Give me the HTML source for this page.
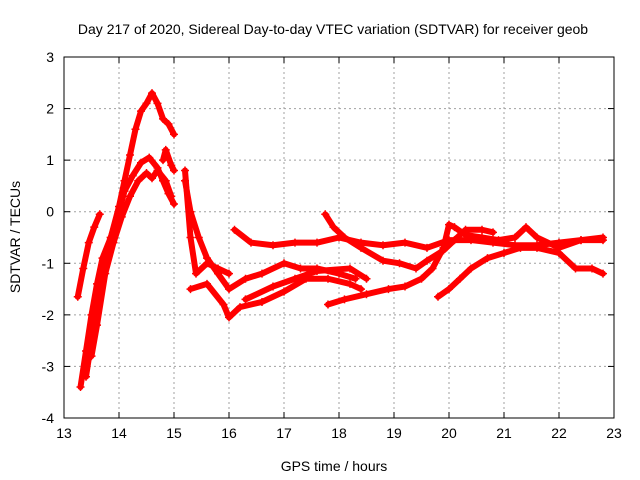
<!DOCTYPE html>
<html><head><meta charset="utf-8">
<style>
html,body{margin:0;padding:0;background:#fff;}
svg{display:block;font-family:"Liberation Sans",sans-serif;}
</style></head>
<body>
<svg id="chart" width="640" height="480" viewBox="0 0 640 480" xmlns="http://www.w3.org/2000/svg">
<text x="333" y="34" font-size="14" text-anchor="middle">Day 217 of 2020, Sidereal Day-to-day VTEC variation (SDTVAR) for receiver geob</text>
<text x="334" y="471" font-size="14" text-anchor="middle">GPS time / hours</text>
<text x="20" y="237" font-size="14" text-anchor="middle" transform="rotate(-90 20 237)">SDTVAR / TECUs</text>
<g id="grid"></g>
<g id="marks"></g>
<rect x="64" y="57" width="550" height="361" fill="none" stroke="#000" stroke-width="1"/>
<g id="axes"></g>
</svg>
<script>
const xTicks = [13,14,15,16,17,18,19,20,21,22,23];
const yTicks = [-4,-3,-2,-1,0,1,2,3];
const trackA = [[13.25,-1.65],[13.35,-1.1],[13.45,-0.6],[13.55,-0.3],[13.65,-0.05]];
const trackB = [[13.3,-3.4],[13.4,-2.7],[13.5,-2.0],[13.6,-1.4],[13.7,-0.9],[13.85,-0.5],[14.0,0.1],[14.1,0.6],[14.2,1.1],[14.3,1.6],[14.4,1.95],[14.5,2.1],[14.6,2.3],[14.7,2.1],[14.8,1.8],[14.9,1.7],[15.0,1.5]];
const trackC = [[13.4,-3.2],[13.5,-2.5],[13.6,-1.8],[13.7,-1.0],[13.85,-0.5],[14.0,0],[14.1,0.4],[14.25,0.7],[14.4,0.95],[14.55,1.05],[14.7,0.85],[14.8,0.6],[14.9,0.35],[15.0,0.15]];
const trackD = [[13.5,-2.8],[13.6,-2.2],[13.75,-1.2],[13.9,-0.6],[14.05,-0.1],[14.2,0.3],[14.35,0.6],[14.5,0.75],[14.6,0.65],[14.7,0.8],[14.85,0.6],[14.95,0.3]];
const trackE = [[14.8,1.0],[14.85,1.2],[14.95,0.9],[15.0,0.8]];
const trackF = [[16.1,-0.35],[16.4,-0.6],[16.8,-0.65],[17.2,-0.6],[17.6,-0.6],[18.0,-0.5],[18.4,-0.6],[18.8,-0.65],[19.2,-0.6],[19.6,-0.7],[20.0,-0.55],[20.4,-0.55],[20.8,-0.6],[21.2,-0.65],[21.6,-0.65],[22.0,-0.6],[22.4,-0.55],[22.8,-0.55]];
const trackG = [[15.2,0.6],[15.3,0],[15.45,-0.5],[15.6,-0.9],[15.8,-1.2],[16.0,-1.5],[16.3,-1.3],[16.6,-1.2],[17.0,-1.0],[17.3,-1.1],[17.6,-1.1],[18.0,-1.2],[18.3,-1.3]];
const trackH = [[15.3,-1.5],[15.6,-1.4],[15.9,-1.8],[16.0,-2.05],[16.2,-1.85],[16.6,-1.75],[17.0,-1.55],[17.4,-1.3],[17.8,-1.3],[18.2,-1.4],[18.4,-1.5]];
const trackI = [[17.75,-0.05],[17.9,-0.3],[18.1,-0.5],[18.4,-0.7],[18.8,-0.95],[19.1,-1.0],[19.4,-1.1],[19.6,-0.95],[19.9,-0.75],[20.1,-0.55],[20.3,-0.35],[20.6,-0.35],[20.8,-0.4]];
const trackJ = [[17.8,-1.8],[18.1,-1.7],[18.5,-1.6],[18.9,-1.5],[19.2,-1.45],[19.5,-1.3],[19.7,-1.1],[19.9,-0.7],[20.0,-0.25],[20.1,-0.3],[20.3,-0.45],[20.6,-0.5],[20.9,-0.55],[21.2,-0.5],[21.4,-0.3],[21.6,-0.5],[22.0,-0.7],[22.4,-0.55],[22.8,-0.5]];
const trackK = [[19.8,-1.65],[20.0,-1.5],[20.2,-1.3],[20.4,-1.1],[20.7,-0.9],[21.0,-0.8],[21.3,-0.7],[21.6,-0.7],[22.0,-0.8],[22.3,-1.1],[22.6,-1.1],[22.8,-1.2]];
const trackL = [[16.3,-1.7],[16.8,-1.45],[17.2,-1.3],[17.6,-1.15],[18.2,-1.1],[18.5,-1.3]];
const trackM = [[15.2,0.8],[15.3,-0.5],[15.4,-1.2],[15.6,-1.0],[15.8,-1.1],[16.0,-1.2]];
const tracks = [trackA,trackB,trackC,trackD,trackE,trackF,trackG,trackH,trackI,trackJ,trackK,trackL,trackM];

const NS = "http://www.w3.org/2000/svg";
const X0=64, X1=614, Y0=418, Y1=57;
function sx(v){return X0+(v-13)/(23-13)*(X1-X0);}
function sy(v){return Y0-(v-(-4))/(3-(-4))*(Y0-Y1);}
const grid=document.getElementById('grid'), axes=document.getElementById('axes'), marks=document.getElementById('marks');
function mk(tag,attrs,parent){const e=document.createElementNS(NS,tag);for(const k in attrs)e.setAttribute(k,attrs[k]);parent.appendChild(e);return e;}
xTicks.forEach(t=>{
  const x=sx(t);
  if(t>13&&t<23){const g=mk('line',{x1:x,x2:x,y1:Y1,y2:Y0,stroke:'#a0a0a0','stroke-dasharray':'2,3'},grid);
  
  }
  mk('line',{x1:x,x2:x,y1:Y0,y2:Y0-6,stroke:'#000'},axes);
  mk('line',{x1:x,x2:x,y1:Y1,y2:Y1+6,stroke:'#000'},axes);
  const l=mk('text',{x:x,y:Y0+20,'font-size':14,'text-anchor':'middle'},axes);
  l.textContent=t;
  
  
});
yTicks.forEach(t=>{
  const y=sy(t);
  if(t>-4&&t<3){const g=mk('line',{x1:X0,x2:X1,y1:y,y2:y,stroke:'#a0a0a0','stroke-dasharray':'2,3'},grid);
  
  }
  mk('line',{x1:X0,x2:X0+6,y1:y,y2:y,stroke:'#000'},axes);
  mk('line',{x1:X1,x2:X1-6,y1:y,y2:y,stroke:'#000'},axes);
  const l=mk('text',{x:X0-10,y:y+5,'font-size':14,'text-anchor':'end'},axes);
  l.textContent=t;
  
  
});
tracks.forEach(tr=>{
  const p=mk('polyline',{points:tr.map(d=>sx(d[0])+','+sy(d[1])).join(' '),fill:'none',stroke:'#ff0000','stroke-width':6,'stroke-linejoin':'round','stroke-linecap':'round'},marks);
  
  
  tr.forEach(d=>{
    const x=sx(d[0]),y=sy(d[1]);
    const m=mk('path',{d:`M${x-4},${y}H${x+4}M${x},${y-4}V${y+4}`,stroke:'#ff0000','stroke-width':1.5},marks);
    
    
  });
});
</script>
</body></html>
